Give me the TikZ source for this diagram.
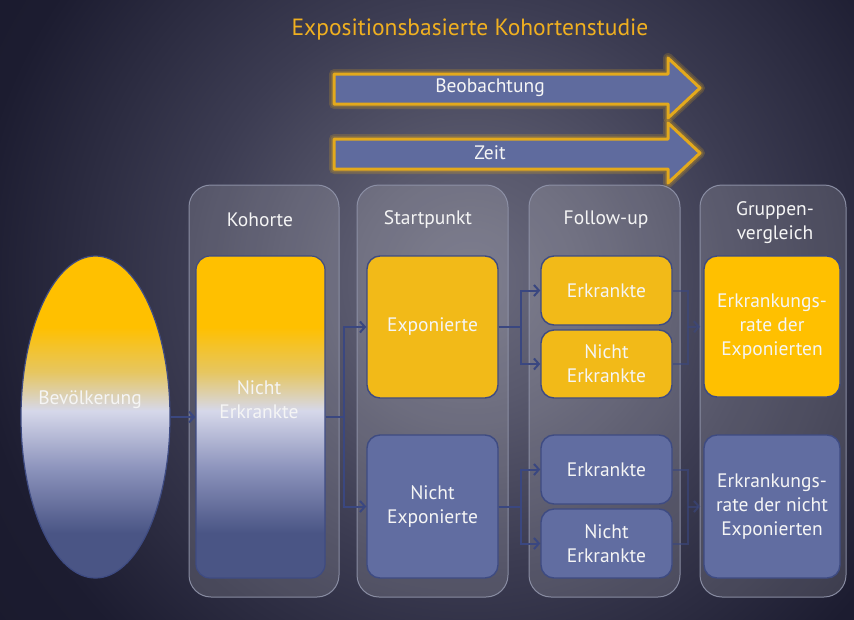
\documentclass[tikz,border=0pt]{standalone}
\usepackage{fontspec}
\setmainfont{PT Sans}
\usetikzlibrary{shapes.geometric,arrows.meta}
\definecolor{bg0}{HTML}{6A6A7D}
\definecolor{bg1}{HTML}{59596D}
\definecolor{bg2}{HTML}{3C3C52}
\definecolor{bg3}{HTML}{1C1C30}
\definecolor{bg4}{HTML}{121224}
\definecolor{popyel}{HTML}{FFC000}
\definecolor{popsand}{HTML}{E6C660}
\definecolor{poplav}{HTML}{D6D8EA}
\definecolor{popmid}{HTML}{8C93BC}
\definecolor{popblue}{HTML}{4A5585}
\definecolor{boxyel}{HTML}{F2BA18}
\definecolor{gyel}{HTML}{FFC000}
\definecolor{boxblue}{HTML}{616DA1}
\definecolor{boxline}{HTML}{3E4B82}
\definecolor{colline}{HTML}{9094AA}
\definecolor{titleyel}{HTML}{F0B020}
\definecolor{glowyel}{HTML}{E3A91C}
\definecolor{arrblue}{HTML}{5F6B9E}
\definecolor{conncol}{HTML}{3A4780}
\definecolor{txt}{HTML}{F5F5F5}
\pgfdeclareradialshading{bgshade}{\pgfpoint{0bp}{0bp}}{color(0bp)=(bg0); color(6bp)=(bg1); color(14bp)=(bg2); color(25bp)=(bg3); color(50bp)=(bg4)}
\pgfdeclareverticalshading{popshade}{100bp}{color(0bp)=(popblue); color(32bp)=(popblue); color(42bp)=(popmid); color(51bp)=(poplav); color(57bp)=(popsand); color(64bp)=(popyel); color(100bp)=(popyel)}
\tikzset{
  colbox/.style={draw=colline, line width=1pt, fill=white, fill opacity=0.14, draw opacity=0.9, rounded corners=22pt, inner sep=0pt},
  ybox/.style={draw=boxline, line width=1.4pt, fill=boxyel, rounded corners=13pt, inner sep=0pt, text=txt, align=center, font=\bodyfont},
  bbox/.style={draw=boxline, line width=1.4pt, fill=boxblue, rounded corners=13pt, inner sep=0pt, text=txt, align=center, font=\bodyfont},
  lbl/.style={text=txt, align=center, font=\bodyfont, inner sep=0pt},
  conn/.style={draw=conncol, line width=2pt, -{Straight Barb[length=5pt,width=11pt]}},
  connline/.style={draw=conncol, line width=2pt},
  bigarrow/.style={fill=arrblue, draw=glowyel, line width=3pt, line join=round},
  glow/.style={draw=glowyel, line width=#1, draw opacity=0.2, line join=round},
}
\newcommand{\bodyfont}{\fontsize{19.5}{24}\selectfont}
\begin{document}
\begin{tikzpicture}[x=1pt,y=-1pt]
\useasboundingbox (0,0) rectangle (854,619);
% background
\begin{scope}
\clip (0,0) rectangle (854,619);
\shade[shading=bgshade] (-30,-220) rectangle (970,780);
\end{scope}
% title
\node[text=titleyel, font=\fontsize{23.5}{28}\selectfont, inner sep=0pt] (title) at (470,30) {Expositionsbasierte Kohortenstudie};
% big arrows
\foreach \dy in {0,65}{
  \draw[glow=10pt] (334,74+\dy) -- (668,74+\dy) -- (668,58+\dy) -- (700,88+\dy) -- (668,118+\dy) -- (668,104+\dy) -- (334,104+\dy) -- cycle;
  \draw[glow=6.5pt] (334,74+\dy) -- (668,74+\dy) -- (668,58+\dy) -- (700,88+\dy) -- (668,118+\dy) -- (668,104+\dy) -- (334,104+\dy) -- cycle;
  \draw[bigarrow] (334,74+\dy) -- (668,74+\dy) -- (668,58+\dy) -- (700,88+\dy) -- (668,118+\dy) -- (668,104+\dy) -- (334,104+\dy) -- cycle;
}
\node[lbl] (beob) at (490,88) {Beobachtung};
\node[lbl] (zeit) at (490,153) {Zeit};
% columns
\node[colbox, minimum width=150pt, minimum height=412pt] (colK) at (264,391) {};
\node[colbox, minimum width=151pt, minimum height=412pt] (colS) at (432.5,391) {};
\node[colbox, minimum width=151pt, minimum height=412pt] (colF) at (604.5,391) {};
\node[colbox, minimum width=146pt, minimum height=412pt] (colG) at (773,391) {};
\node[lbl] (tK) at (260,220) {Kohorte};
\node[lbl] (tS) at (428,220) {Startpunkt};
\node[lbl] (tF) at (606,220) {Follow-up};
\node[lbl] (tG) at (775,223) {Gruppen-\\vergleich};
% population & cohort
\node[ellipse, draw=boxline, line width=1.2pt, shading=popshade, minimum width=149pt, minimum height=322pt, inner sep=0pt] (bev) at (95.5,417) {};
\node[lbl] (bevt) at (90,400) {Bevölkerung};
\node[draw=boxline, line width=1.2pt, shading=popshade, rounded corners=14pt, minimum width=129pt, minimum height=322pt, inner sep=0pt] (koh) at (260.5,417) {};
\node[lbl] (koht) at (259,400) {Nicht\\Erkrankte};
% boxes
\node[ybox, minimum width=131pt, minimum height=142pt] (expo) at (432.5,327) {Exponierte};
\node[bbox, minimum width=131pt, minimum height=143pt] (nexpo) at (432.5,506.5) {Nicht\\Exponierte};
\node[ybox, minimum width=131pt, minimum height=69pt] (fy1) at (606.5,290.5) {Erkrankte};
\node[ybox, minimum width=131pt, minimum height=68pt] (fy2) at (606.5,364) {Nicht\\Erkrankte};
\node[bbox, minimum width=131pt, minimum height=69pt] (fb1) at (606.5,469.5) {Erkrankte};
\node[bbox, minimum width=131pt, minimum height=69pt] (fb2) at (606.5,543.5) {Nicht\\Erkrankte};
\node[ybox, fill=gyel, minimum width=136pt, minimum height=141pt] (gy) at (772,326.5) {Erkrankungs-\\rate der\\Exponierten};
\node[bbox, minimum width=136pt, minimum height=143pt] (gb) at (772,506.5) {Erkrankungs-\\rate der nicht\\Exponierten};
% connectors
\draw[conn] (bev) -- (koh);
\draw[conn] (koh.east) -- ++(18,0) |- (expo.west);
\draw[conn] (koh.east) -- ++(18,0) |- (nexpo.west);
\draw[conn] (expo.east) -- ++(22,0) |- (fy1.west);
\draw[conn] (expo.east) -- ++(22,0) |- (fy2.west);
\draw[conn] (nexpo.east) -- ++(22,0) |- (fb1.west);
\draw[conn] (nexpo.east) -- ++(22,0) |- (fb2.west);
\coordinate (jy) at (688,327);
\coordinate (jb) at (688,506.5);
\begin{scope}[opacity=0.6]
\draw[connline] (fy1.east) -| (jy) |- (fy2.east);
\draw[conn, shorten >=3pt] (jy) -- (gy.west);
\draw[connline] (fb1.east) -| (jb) |- (fb2.east);
\draw[conn, shorten >=3pt] (jb) -- (gb.west);
\end{scope}
\end{tikzpicture}
\end{document}
